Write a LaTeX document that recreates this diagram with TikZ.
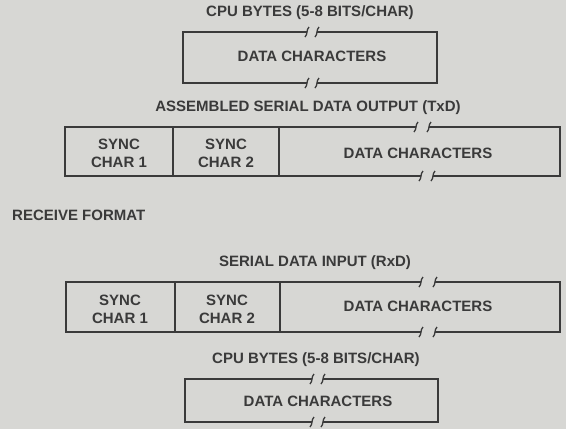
\documentclass[tikz,border=0pt]{standalone}
\usepackage{fontspec}
\setmainfont{Liberation Sans}
\definecolor{bg}{HTML}{D7D7D4}
\definecolor{ink}{HTML}{3A3A3A}
\newcommand\brkmark[2]{\draw[ink,line width=1.3pt] ({#1-2},{#2+5}) .. controls ({#1+1},{#2+2}) and ({#1-1},{#2-2}) .. ({#1+2},{#2-5});}
\begin{document}
\begin{tikzpicture}[x=1pt,y=-1pt,
  txt/.style={font=\fontsize{15}{18}\selectfont\bfseries, text=ink, inner sep=0pt, align=center},
  frame/.style={draw=ink, line width=1.8pt}]
\fill[bg] (0,0) rectangle (566,429);
\useasboundingbox (0,0) rectangle (566,429);

% ---- box 1
\node[txt] (t1) at (310,13) {CPU BYTES (5-8 BITS/CHAR)};
\draw[frame] (307,32) -- (183,32) -- (183,83) -- (307,83);
\draw[frame] (317,32) -- (437,32) -- (437,83) -- (317,83);
\brkmark{307}{32}\brkmark{317}{32}\brkmark{307}{83}\brkmark{317}{83}
\node[txt] (d1) at (312,56) {DATA CHARACTERS};

% ---- box 2
\node[txt] (t2) at (308,108) {ASSEMBLED SERIAL DATA OUTPUT (TxD)};
\draw[frame] (416,127) -- (65,127) -- (65,176) -- (421,176);
\draw[frame] (429,127) -- (560,127) -- (560,176) -- (433,176);
\draw[frame] (173,127) -- (173,176);
\draw[frame] (279,127) -- (279,176);
\brkmark{416}{127}\brkmark{429}{127}\brkmark{421}{176}\brkmark{433}{176}
\node[txt] (s1a) at (119,153) {SYNC\\CHAR 1};
\node[txt] (s2a) at (226,153) {SYNC\\CHAR 2};
\node[txt] (d2) at (418,153) {DATA CHARACTERS};

% ---- receive
\node[txt,anchor=west] (rf) at (12,215) {RECEIVE FORMAT};

% ---- box 3
\node[txt] (t3) at (315,263) {SERIAL DATA INPUT (RxD)};
\draw[frame] (421,282) -- (66,282) -- (66,332) -- (421,332);
\draw[frame] (435,282) -- (560,282) -- (560,332) -- (435,332);
\draw[frame] (175,282) -- (175,332);
\draw[frame] (280,282) -- (280,332);
\brkmark{421}{282}\brkmark{435}{282}\brkmark{421}{332}\brkmark{435}{332}
\node[txt] (s1b) at (120,309) {SYNC\\CHAR 1};
\node[txt] (s2b) at (227,309) {SYNC\\CHAR 2};
\node[txt] (d3) at (418,306) {DATA CHARACTERS};

% ---- box 4
\node[txt] (t4) at (316,360) {CPU BYTES (5-8 BITS/CHAR)};
\draw[frame] (312,379) -- (185,379) -- (185,422) -- (312,422);
\draw[frame] (323,379) -- (438,379) -- (438,422) -- (323,422);
\brkmark{312}{379}\brkmark{323}{379}\brkmark{312}{422}\brkmark{323}{422}
\node[txt] (d4) at (318,401) {DATA CHARACTERS};
\end{tikzpicture}
\end{document}
